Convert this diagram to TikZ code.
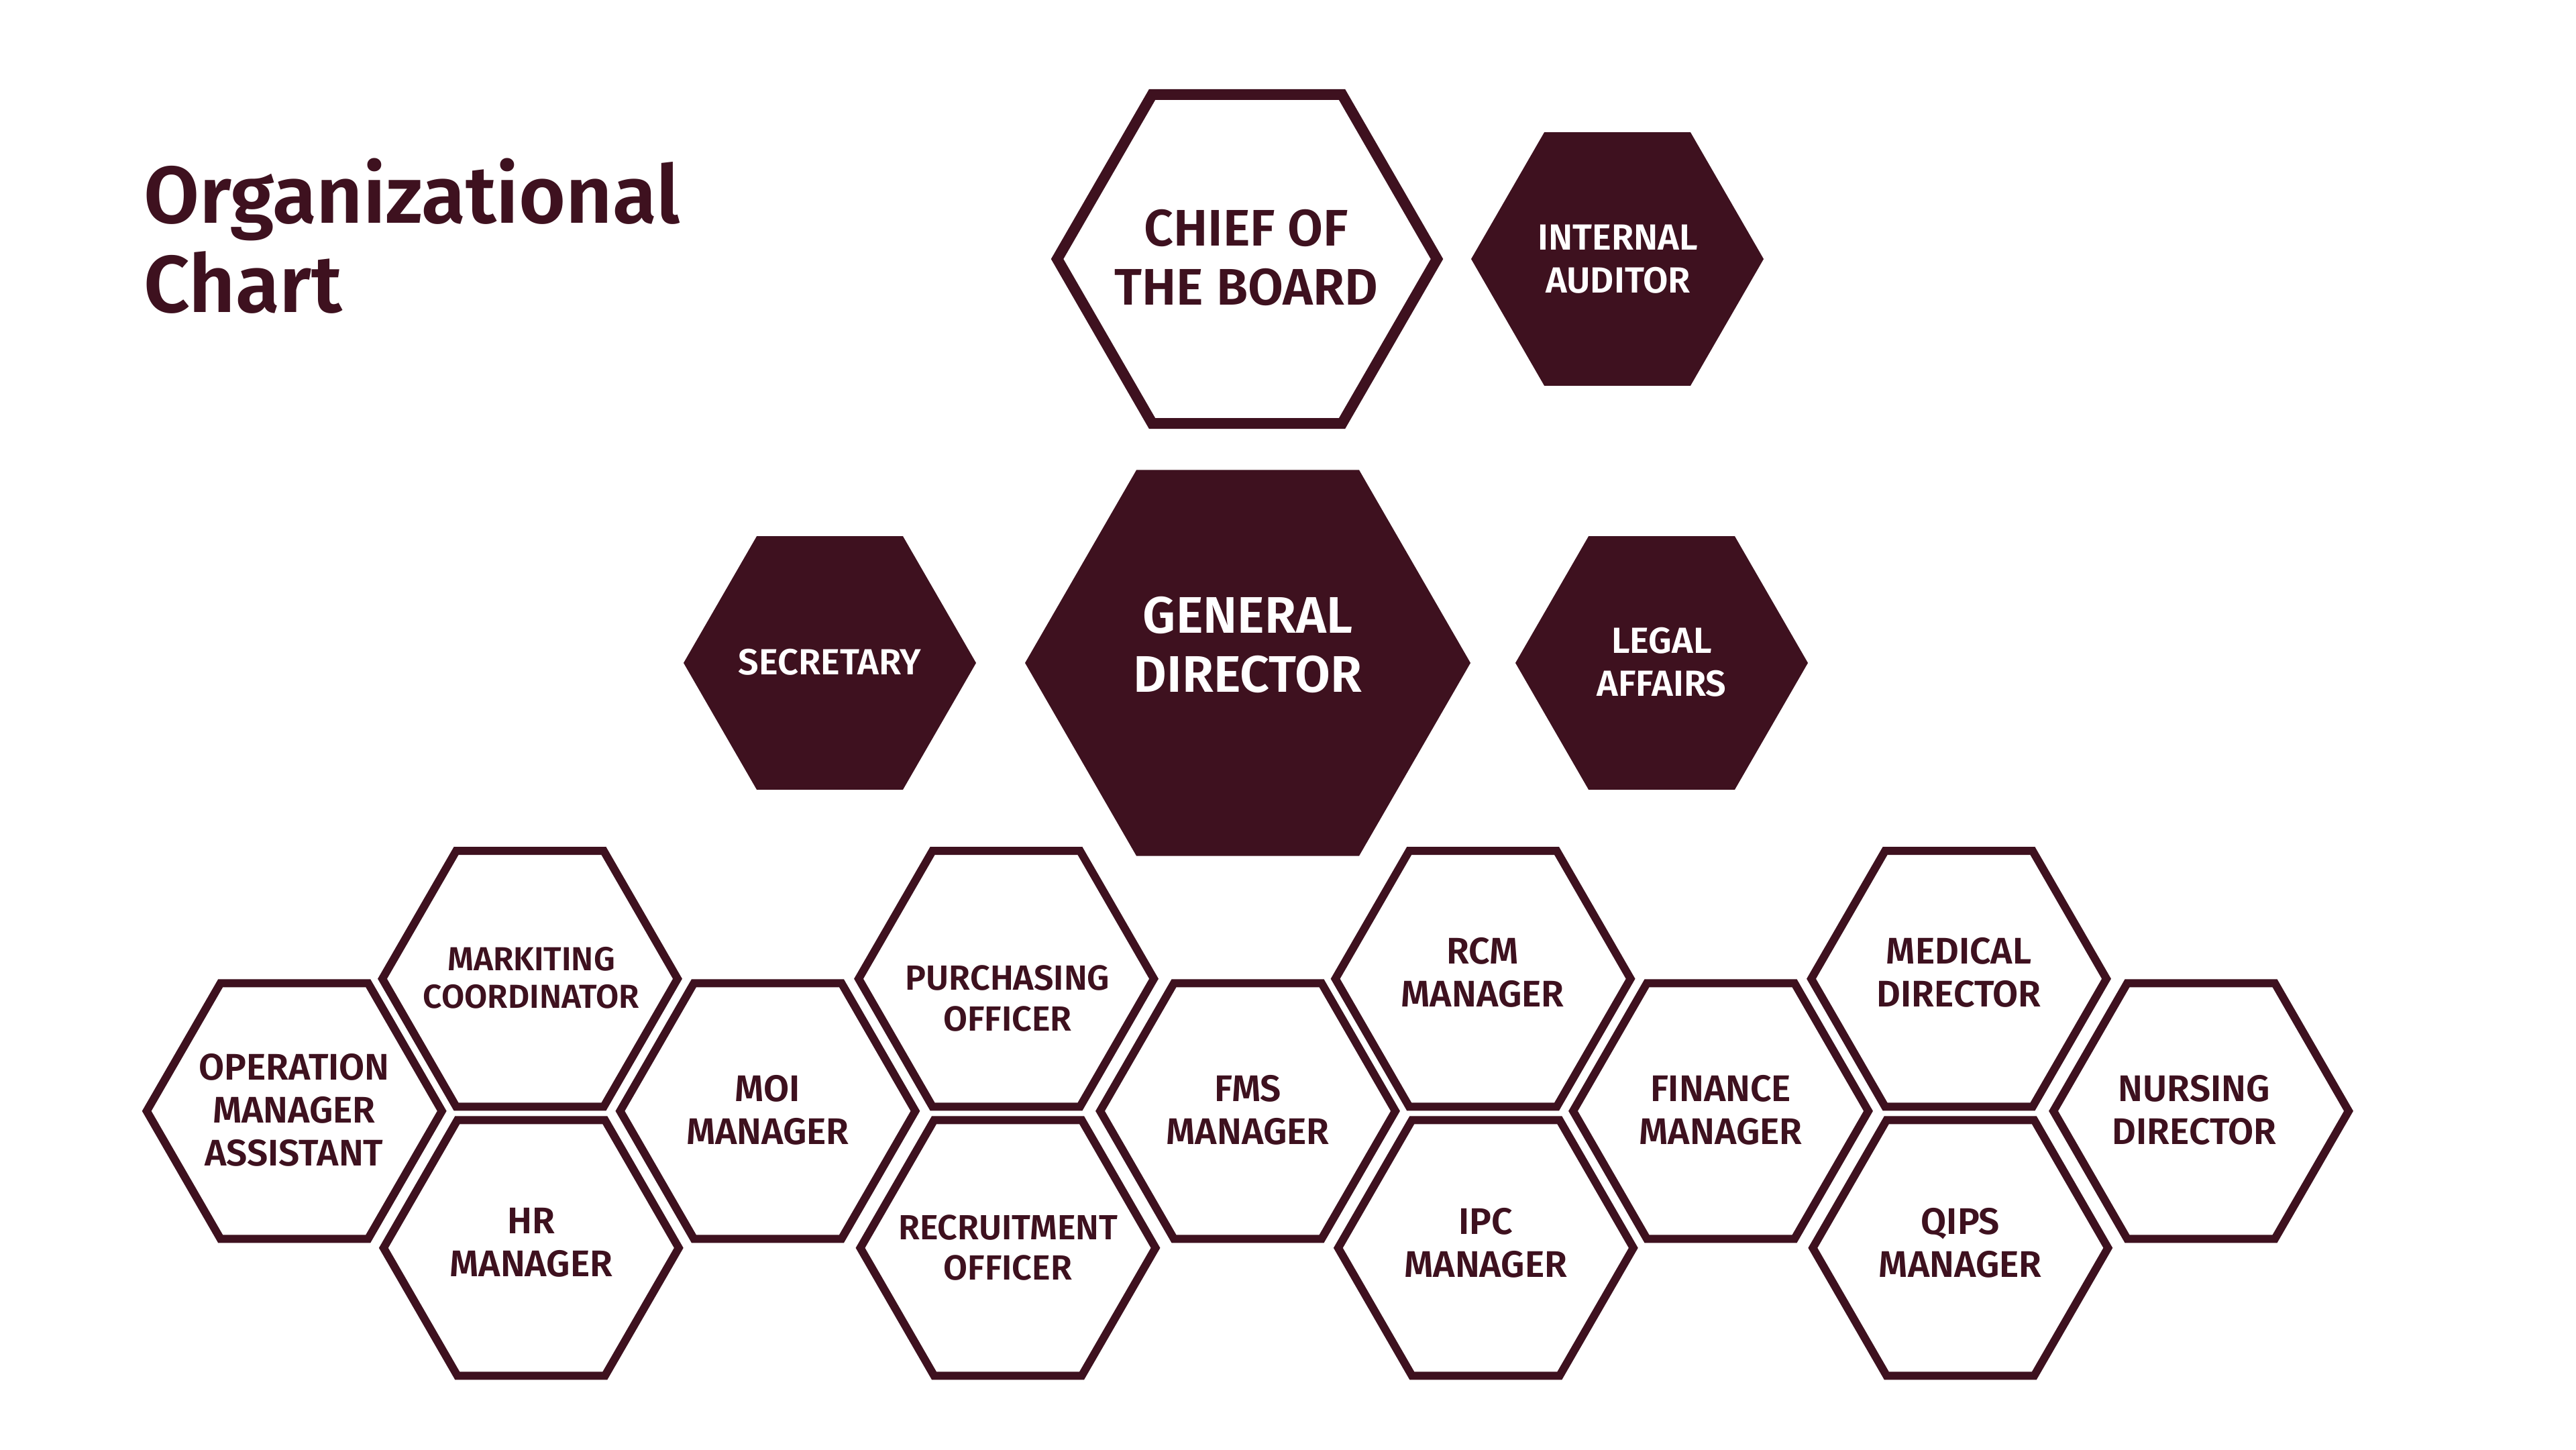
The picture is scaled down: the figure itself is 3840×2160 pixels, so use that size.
\documentclass[tikz,border=0pt]{standalone}
\usepackage{fontspec}
\setmainfont{Fira Sans}
\newfontfamily\fsemi{Fira Sans SemiBold}
\newfontfamily\fmed{Fira Sans Medium}
\definecolor{maroon}{RGB}{62,17,31}
\newcommand\hexa[4]{\path[#4, shift={(#1,#2)}] (0:#3) -- (60:#3) -- (120:#3) -- (180:#3) -- (240:#3) -- (300:#3) -- cycle;}
\begin{document}
\begin{tikzpicture}[x=0.01cm,y=-0.01cm,
  hexline/.style={draw=maroon, line width=3.41pt, fill=white, line join=miter},
  hexbig/.style={draw=maroon, line width=4.55pt, fill=white, line join=miter},
  hexfill/.style={fill=maroon},
  base/.style={align=center, inner sep=0pt, outer sep=0pt},
  titletext/.style={base, align=left, text=maroon, font=\fsemi\fontsize{34.2}{37.8}\selectfont},
  biglbl/.style={base, font=\fsemi\fontsize{21.8}{25}\selectfont},
  midlbl/.style={base, text=white, font=\fsemi\fontsize{15.4}{18.2}\selectfont},
  smalllbl/.style={base, text=maroon, font=\fsemi\fontsize{15.7}{18.2}\selectfont},
  marklbl/.style={base, text=maroon, font=\fsemi\fontsize{14.1}{16}\selectfont},
  purlbl/.style={base, text=maroon, font=\fsemi\fontsize{14.8}{17.1}\selectfont}]
\useasboundingbox[fill=white] (0,0) rectangle (3840,2160);

% title
\node[titletext, anchor=west] (title) at (214,352) {Organizational\\Chart};

% top level
\hexa{1859}{386}{283}{hexbig}
\node[biglbl, text=maroon] (chief) at (1858,384) {CHIEF OF\\THE BOARD};
\hexa{2411}{386}{218}{hexfill}
\node[midlbl] (auditor) at (2412,386) {INTERNAL\\AUDITOR};

\hexa{1860}{988}{332}{hexfill}
\node[biglbl, text=white] (gd) at (1860,961) {GENERAL\\DIRECTOR};
\hexa{1237}{988}{218}{hexfill}
\node[midlbl] (secretary) at (1237,987) {SECRETARY};
\hexa{2477}{988}{218}{hexfill}
\node[midlbl] (legal) at (2477,987) {LEGAL\\AFFAIRS};

% honeycomb - row A
\hexa{790}{1458.7}{220}{hexline}
\node[marklbl] (mark) at (792,1457.5) {MARKITING\\COORDINATOR};
\hexa{1500}{1458.7}{220}{hexline}
\node[purlbl] (purch) at (1502,1488) {PURCHASING\\OFFICER};
\hexa{2210.6}{1458.7}{220}{hexline}
\node[smalllbl] (rcm) at (2210,1449) {RCM\\MANAGER};
\hexa{2920}{1458.7}{220}{hexline}
\node[smalllbl] (medical) at (2920,1449) {MEDICAL\\DIRECTOR};

% row B
\hexa{438.7}{1655.8}{220}{hexline}
\node[smalllbl] (oper) at (438.5,1654) {OPERATION\\MANAGER\\ASSISTANT};
\hexa{1144.4}{1655.8}{220}{hexline}
\node[smalllbl] (moi) at (1144.4,1654) {MOI\\MANAGER};
\hexa{1860}{1655.8}{220}{hexline}
\node[smalllbl] (fms) at (1860,1654.5) {FMS\\MANAGER};
\hexa{2565}{1655.8}{220}{hexline}
\node[smalllbl] (finance) at (2565,1654) {FINANCE\\MANAGER};
\hexa{3281}{1655.8}{220}{hexline}
\node[smalllbl] (nursing) at (3271,1654) {NURSING\\DIRECTOR};

% row C
\hexa{791.8}{1859.8}{220}{hexline}
\node[smalllbl] (hr) at (791.8,1852) {HR\\MANAGER};
\hexa{1502.5}{1859.8}{220}{hexline}
\node[purlbl] (recruit) at (1502.5,1859.8) {RECRUITMENT\\OFFICER};
\hexa{2214.8}{1859.8}{220}{hexline}
\node[smalllbl] (ipc) at (2214.8,1852) {IPC\\MANAGER};
\hexa{2922.3}{1859.8}{220}{hexline}
\node[smalllbl] (qips) at (2922.3,1852) {QIPS\\MANAGER};
\end{tikzpicture}
\end{document}
